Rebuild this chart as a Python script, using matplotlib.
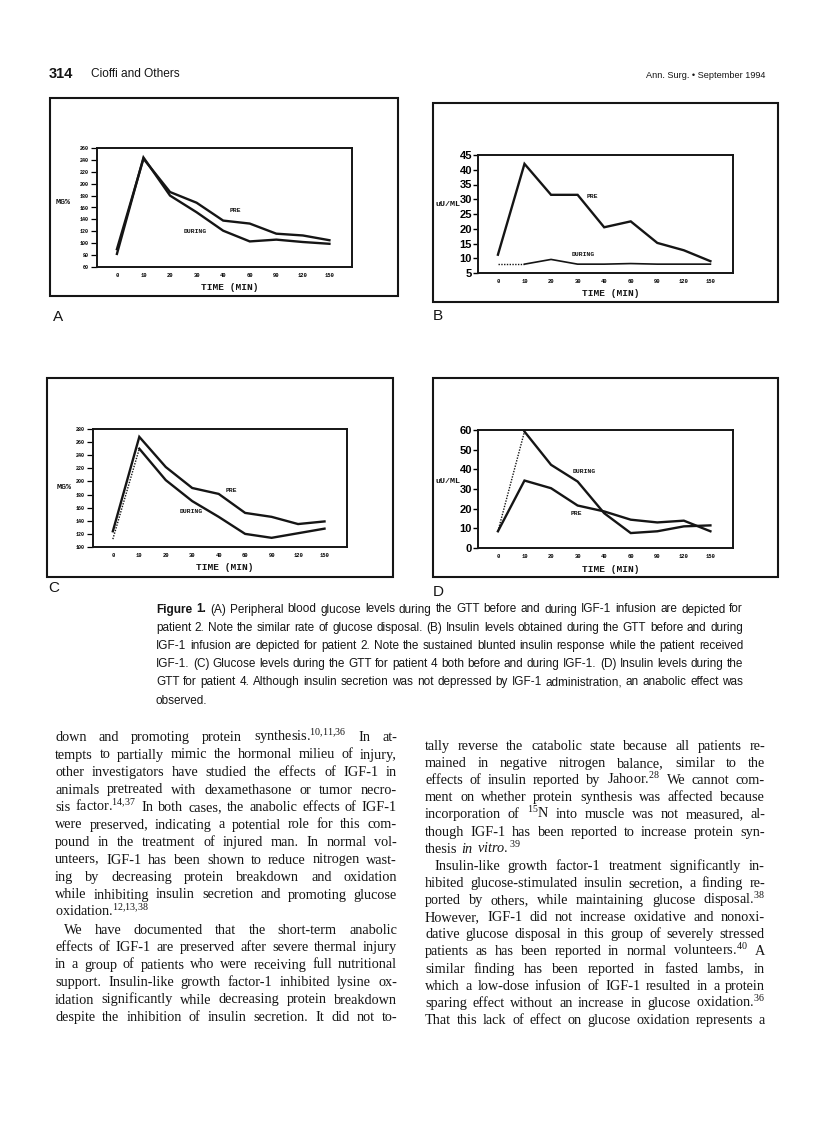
import numpy as np
import matplotlib
matplotlib.use("Agg")
import matplotlib.pyplot as plt
from matplotlib import font_manager as fm
from matplotlib.patches import Rectangle

W, H = 816, 1121

# ---- data (GTT, patient 2 and patient 4) ----
times = [0, 10, 20, 30, 40, 60, 90, 120, 150]
a_pre = [90, 242, 186, 168, 138, 133, 116, 113, 105]
a_during = [82, 244, 180, 152, 121, 103, 106, 102, 99]
b_pre = [11.2, 42.0, 31.5, 31.5, 20.5, 22.5, 15.2, 12.7, 9.0]
b_during = [8.0, 8.0, 9.6, 8.0, 8.0, 8.2, 8.0, 8.0, 8.0]
c_pre = [124, 268, 222, 190, 181, 152, 146, 135, 139]
c_during = [112, 250, 202, 170, 146, 120, 114, 121, 128]
d_pre = [8.5, 34.3, 30.4, 21.6, 18.6, 14.4, 13.0, 13.9, 8.5]
d_during = [8.5, 59.2, 42.3, 33.8, 17.7, 7.6, 8.5, 11.0, 11.5]

header_left = ["314", "Cioffi and Others"]
header_right = "Ann. Surg. \u2022 September 1994"

caption = [
    "Figure 1.  (A) Peripheral blood glucose levels during the GTT before and during IGF-1 infusion are depicted for",
    "patient 2. Note the similar rate of glucose disposal. (B) Insulin levels obtained during the GTT before and during",
    "IGF-1 infusion are depicted for patient 2. Note the sustained blunted insulin response while the patient received",
    "IGF-1. (C) Glucose levels during the GTT for patient 4 both before and during IGF-1. (D) Insulin levels during the",
    "GTT for patient 4. Although insulin secretion was not depressed by IGF-1 administration, an anabolic effect was",
    "observed.",
]

left_col = [
    "down and promoting protein synthesis.$^{10{,}11{,}36}$ In at-",
    "tempts to partially mimic the hormonal milieu of injury,",
    "other investigators have studied the effects of IGF-1 in",
    "animals pretreated with dexamethasone or tumor necro-",
    "sis factor.$^{14{,}37}$ In both cases, the anabolic effects of IGF-1",
    "were preserved, indicating a potential role for this com-",
    "pound in the treatment of injured man. In normal vol-",
    "unteers, IGF-1 has been shown to reduce nitrogen wast-",
    "ing by decreasing protein breakdown and oxidation",
    "while inhibiting insulin secretion and promoting glucose",
    "oxidation.$^{12{,}13{,}38}$",
    "We have documented that the short-term anabolic",
    "effects of IGF-1 are preserved after severe thermal injury",
    "in a group of patients who were receiving full nutritional",
    "support. Insulin-like growth factor-1 inhibited lysine ox-",
    "idation significantly while decreasing protein breakdown",
    "despite the inhibition of insulin secretion. It did not to-",
]
left_last = {10}
left_indent = {11}

right_col = [
    "tally reverse the catabolic state because all patients re-",
    "mained in negative nitrogen balance, similar to the",
    "effects of insulin reported by Jahoor.$^{28}$ We cannot com-",
    "ment on whether protein synthesis was affected because",
    "incorporation of $^{15}$N into muscle was not measured, al-",
    "though IGF-1 has been reported to increase protein syn-",
    "thesis $\\mathit{in}$ $\\mathit{vitro.}^{39}$",
    "Insulin-like growth factor-1 treatment significantly in-",
    "hibited glucose-stimulated insulin secretion, a finding re-",
    "ported by others, while maintaining glucose disposal.$^{38}$",
    "However, IGF-1 did not increase oxidative and nonoxi-",
    "dative glucose disposal in this group of severely stressed",
    "patients as has been reported in normal volunteers.$^{40}$ A",
    "similar finding has been reported in fasted lambs, in",
    "which a low-dose infusion of IGF-1 resulted in a protein",
    "sparing effect without an increase in glucose oxidation.$^{36}$",
    "That this lack of effect on glucose oxidation represents a",
]
right_last = {6}
right_indent = {7}

plt.rcParams["mathtext.fontset"] = "custom"
plt.rcParams["mathtext.rm"] = "Liberation Serif"
plt.rcParams["mathtext.it"] = "Liberation Serif:italic"
plt.rcParams["mathtext.bf"] = "Liberation Serif:bold"

installed = {f.name for f in fm.fontManager.ttflist}
if "Liberation Sans Narrow" in installed:
    NARROW, CAP_SIZE = "Liberation Sans Narrow", 9.6
else:
    NARROW, CAP_SIZE = "Liberation Sans", 8.5
MONO = "Liberation Mono"
SERIF = "Liberation Serif"
SANS = "Liberation Sans"
INK = "#151515"

fig = plt.figure(figsize=(W / 100, H / 100), dpi=100)
renderer = fig.canvas.get_renderer()


def fx(x):
    return x / W


def fy(y):
    return 1 - y / H


def box(l, t, r, b):
    return [l / W, 1 - b / H, (r - l) / W, (b - t) / H]


def set_line(x0, x1, y, text, size, family, justify=True, bold_words=0):
    words = text.split()
    arts = []
    for i, w in enumerate(words):
        arts.append(fig.text(fx(x0), fy(y), w, fontsize=size, family=family,
                             fontweight="bold" if i < bold_words else "normal",
                             va="baseline", ha="left", color=INK))
    widths = [a.get_window_extent(renderer).width for a in arts]
    gap = size * 100 / 72 * 0.25
    if justify and len(words) > 1:
        gap = max((x1 - x0 - sum(widths)) / (len(words) - 1), 1.5)
    x = x0
    for a, w in zip(arts, widths):
        a.set_x(fx(x))
        x += w + gap


def panel(frame, inner, pre, during, ylim, ystep, ylabel, ylabel_xy,
          big_yticks, pre_xy, dur_xy, letter, letter_xy, dur_thin, xlab_y,
          dotted_rise=True):
    fr = Rectangle((frame[0] / W, 1 - frame[3] / H), (frame[2] - frame[0]) / W,
                   (frame[3] - frame[1]) / H, transform=fig.transFigure,
                   fill=False, lw=1.5, ec=INK)
    fig.patches.append(fr)
    ax = fig.add_axes(box(*inner))
    x = np.arange(len(times))
    lw_d = 1.2 if dur_thin else 1.7
    ax.plot(x, pre, color=INK, lw=1.7, solid_joinstyle="miter")
    if dotted_rise:
        ax.plot(x[:2], during[:2], color=INK, lw=1.0, ls=(0, (1, 1)))
        ax.plot(x[1:], during[1:], color=INK, lw=lw_d, solid_joinstyle="miter")
    else:
        ax.plot(x, during, color=INK, lw=lw_d, solid_joinstyle="miter")
    ax.set_xlim(-0.75, 8.85)
    ax.set_ylim(*ylim)
    ax.set_yticks(np.arange(ylim[0], ylim[1] + 0.1, ystep))
    ax.set_xticks(x)
    ax.set_xticklabels([str(t) for t in times], family=MONO, weight="bold",
                       fontsize=4.0)
    if big_yticks:
        ax.set_yticklabels([str(int(v)) for v in ax.get_yticks()], family=SANS,
                           weight="bold", fontsize=8)
        ax.tick_params(axis="y", length=3.6, width=1.0, pad=0.8)
    else:
        ax.set_yticklabels([str(int(v)) for v in ax.get_yticks()], family=MONO,
                           weight="bold", fontsize=3.6)
        ax.tick_params(axis="y", length=4.0, width=0.9, pad=2.2)
    ax.tick_params(axis="x", length=0, pad=4.0)
    for s in ax.spines.values():
        s.set_linewidth(1.4)
        s.set_color(INK)
    ax.text(pre_xy[0], pre_xy[1], "PRE", family=MONO, weight="bold",
            fontsize=4.6, ha="center", va="center", color=INK)
    ax.text(dur_xy[0], dur_xy[1], "DURING", family=MONO, weight="bold",
            fontsize=4.6, ha="center", va="center", color=INK)
    fig.text(fx(ylabel_xy[0]), fy(ylabel_xy[1]), ylabel, family=MONO,
             weight="bold", fontsize=6.0, ha="center", va="center", color=INK)
    fig.text(fx((inner[0] + inner[2]) / 2 + 5), fy(xlab_y), "TIME (MIN)",
             family=MONO, weight="bold", fontsize=6.8, ha="center",
             va="center", color=INK)
    fig.text(fx(letter_xy[0]), fy(letter_xy[1]), letter, family=SANS,
             fontsize=11, ha="left", va="center", color=INK)
    return ax


panel((50, 98, 398, 296), (97, 148, 352, 267), a_pre, a_during, (60, 260), 20,
      "MG%", (63, 202), False, (4.45, 155), (2.95, 119), "A", (53, 317),
      False, 287, dotted_rise=False)
panel((433, 103, 778, 302), (478, 155, 733, 273), b_pre, b_during, (5, 45), 5,
      "uU/ML", (448, 205), True, (3.57, 31.1), (3.23, 11.2), "B", (433, 316),
      True, 294)
panel((47, 378, 393, 577), (93, 429, 347, 547), c_pre, c_during, (100, 280), 20,
      "MG%", (64, 488), False, (4.47, 186), (2.97, 154), "C", (48, 588),
      False, 567)
panel((433, 378, 778, 577), (478, 430, 733, 548), d_pre, d_during, (0, 60), 10,
      "uU/ML", (448, 482), True, (2.95, 17.4), (3.25, 38.9), "D", (433, 592),
      False, 569)

# ---- running head ----
fig.text(fx(49), fy(74), header_left[0], family=SANS, weight="bold",
         fontsize=10.5, ha="left", va="center", color=INK)
fig.text(fx(91), fy(74), header_left[1], family=SANS, fontsize=8.6,
         ha="left", va="center", color=INK)
fig.text(fx(765), fy(75), header_right, family=SANS, fontsize=6.6,
         ha="right", va="center", color=INK)

# ---- caption ----
for i, line in enumerate(caption):
    set_line(156, 743, 612.5 + 18.2 * i, line, CAP_SIZE, NARROW,
             justify=(i < len(caption) - 1), bold_words=2 if i == 0 else 0)

# ---- body text, two justified columns ----
BODY = 10.3
for i, line in enumerate(left_col):
    x0 = 55 + (9 if i in left_indent else 0)
    set_line(x0, 397, 741 + 17.5 * i, line, BODY, SERIF,
             justify=i not in left_last)
for i, line in enumerate(right_col):
    x0 = 425 + (9 if i in right_indent else 0)
    set_line(x0, 765, 750 + 17.12 * i, line, BODY, SERIF,
             justify=i not in right_last)

fig.savefig("out.png", dpi=100)
